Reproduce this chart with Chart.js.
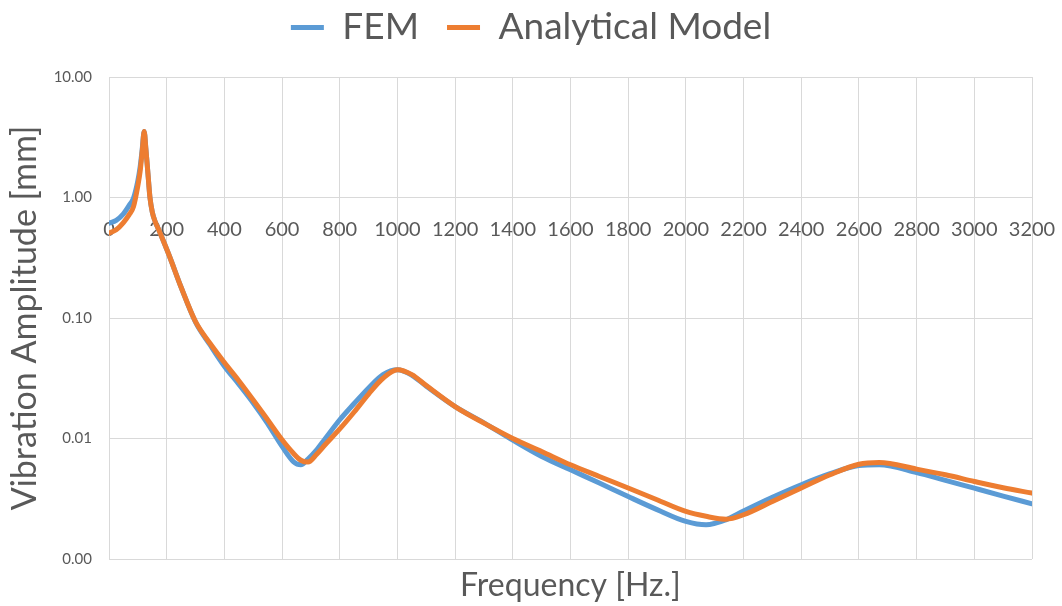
<!DOCTYPE html>
<html>
<head>
<meta charset="utf-8">
<title>Vibration amplitude vs frequency</title>
<script src="https://cdn.jsdelivr.net/npm/chart.js@4"></script>
<style>
  html, body { margin: 0; background: #fff; }
  #wrap { width: 1062px; height: 606px; }
</style>
</head>
<body>
<div id="wrap"><canvas id="chart"></canvas></div>
<script>
// frequency sweep [Hz] shared by both curves
const freqHz = [
  0, 25, 50, 70, 85, 100, 108, 115, 122, 128, 135, 142, 150, 160, 171, 190,
  210, 250, 300, 350, 400, 450, 500, 550, 600, 640, 665, 690, 720, 750, 800,
  850, 900, 950, 1000, 1050, 1100, 1200, 1300, 1400, 1500, 1600, 1700, 1800,
  1900, 2000, 2070, 2140, 2200, 2300, 2400, 2500, 2600, 2670, 2800, 2900,
  3000, 3100, 3200
]

// amplitude [mm], finite element result
const femAmp = [
  0.613, 0.645, 0.73, 0.86, 0.99, 1.38, 1.8, 2.5, 3.53, 2.51, 1.58, 1.0,
  0.759, 0.631, 0.55, 0.427, 0.324, 0.180, 0.0925, 0.0600, 0.0398, 0.0282,
  0.0197, 0.0133, 0.0086, 0.0064, 0.00605, 0.00676, 0.00805, 0.0100, 0.0143,
  0.0195, 0.0263, 0.0339, 0.0372, 0.0335, 0.0272, 0.0184, 0.0135, 0.0097,
  0.0071, 0.0055, 0.00427, 0.0033, 0.00257, 0.00205, 0.00192, 0.00212,
  0.0025, 0.00325, 0.00413, 0.0051, 0.00597, 0.00605, 0.00522, 0.0045,
  0.00387, 0.00333, 0.00287
]

// amplitude [mm], analytical model
const modelAmp = [
  0.506, 0.54, 0.62, 0.72, 0.84, 1.25, 1.65, 2.4, 3.53, 2.51, 1.58, 1.0,
  0.759, 0.631, 0.55, 0.427, 0.324, 0.180, 0.0933, 0.0617, 0.0427, 0.0302,
  0.0209, 0.0143, 0.00975, 0.0075, 0.0066, 0.00637, 0.00741, 0.00891, 0.0120,
  0.0166, 0.0234, 0.0316, 0.0372, 0.0339, 0.0275, 0.0184, 0.0134, 0.0100,
  0.0078, 0.00605, 0.00484, 0.00388, 0.0031, 0.00248, 0.00226, 0.00214,
  0.00233, 0.0030, 0.00388, 0.0050, 0.00612, 0.00632, 0.00557, 0.0050,
  0.0044, 0.0039, 0.00352
]

const yTicks = [0.001, 0.01, 0.1, 1, 10]

const gray = '#595959'
const gridGray = '#d9d9d9'
const family = 'Lato, Carlito, Calibri, sans-serif'

const toPoints = amp => freqHz.map((f, i) => ({ x: f, y: amp[i] }))

// fixed legend band height, items pulled up so the larger item gap fits
const legendBand = {
  id: 'legendBand',
  beforeInit (chart) {
    const fit = chart.legend.fit
    chart.legend.fit = function () {
      fit.call(this)
      this.height = 77
    }
  },
  afterLayout (chart) {
    chart.legend.top -= 19
  }
}

const config = {
  type: 'line',
  data: {
    datasets: [
      {
        label: 'FEM',
        data: toPoints(femAmp),
        borderColor: '#5b9bd5',
        backgroundColor: '#5b9bd5',
        borderWidth: 5,
        pointRadius: 0,
        cubicInterpolationMode: 'monotone',
        borderCapStyle: 'round',
        borderJoinStyle: 'round',
        order: 1
      },
      {
        label: 'Analytical Model',
        data: toPoints(modelAmp),
        borderColor: '#ed7d31',
        backgroundColor: '#ed7d31',
        borderWidth: 5,
        pointRadius: 0,
        cubicInterpolationMode: 'monotone',
        borderCapStyle: 'round',
        borderJoinStyle: 'round',
        order: 0
      }
    ]
  },
  options: {
    responsive: true,
    maintainAspectRatio: false,
    animation: false,
    layout: { padding: 0 },
    plugins: {
      tooltip: { enabled: false },
      legend: {
        position: 'top',
        labels: {
          usePointStyle: true,
          pointStyle: 'line',
          pointStyleWidth: 33,
          color: gray,
          font: { family, size: 37 },
          padding: 28,
          sort: (a, b) => a.datasetIndex - b.datasetIndex
        }
      }
    },
    scales: {
      x: {
        type: 'linear',
        position: { y: 1 },
        min: 0,
        max: 3200,
        ticks: {
          stepSize: 200,
          autoSkip: false,
          maxRotation: 0,
          color: gray,
          font: { family, size: 20 },
          padding: 0,
          callback: v => String(v)
        },
        // invisible tick marks push the labels below the axis line
        grid: { color: gridGray, tickLength: 20, tickColor: 'rgba(0,0,0,0)' },
        border: { color: gridGray }
      },
      xTitle: {
        type: 'linear',
        position: 'bottom',
        min: 0,
        max: 3200,
        afterFit: s => { s.height = 47 },
        ticks: { display: false },
        grid: { display: false },
        border: { display: false },
        title: {
          display: true,
          text: 'Frequency [Hz.]',
          color: gray,
          font: { family, size: 32 },
          padding: { top: 0, bottom: 1 }
        }
      },
      y: {
        type: 'logarithmic',
        position: 'left',
        min: 0.001,
        max: 10,
        afterBuildTicks: s => { s.ticks = yTicks.map(v => ({ value: v })) },
        afterFit: s => { s.width = 109 },
        ticks: {
          color: gray,
          font: { family, size: 15 },
          padding: 17,
          callback: v => Number(v).toFixed(2)
        },
        grid: { color: gridGray, drawTicks: false },
        border: { color: gridGray },
        title: {
          display: true,
          text: 'Vibration Amplitude [mm]',
          color: gray,
          font: { family, size: 34 },
          padding: { top: 5, bottom: 0 }
        }
      },
      yPad: {
        type: 'linear',
        position: 'right',
        afterFit: s => { s.width = 30 },
        ticks: { display: false },
        grid: { display: false },
        border: { display: false }
      }
    }
  },
  plugins: [legendBand]
}

new Chart(document.getElementById('chart'), config)
</script>
</body>
</html>
